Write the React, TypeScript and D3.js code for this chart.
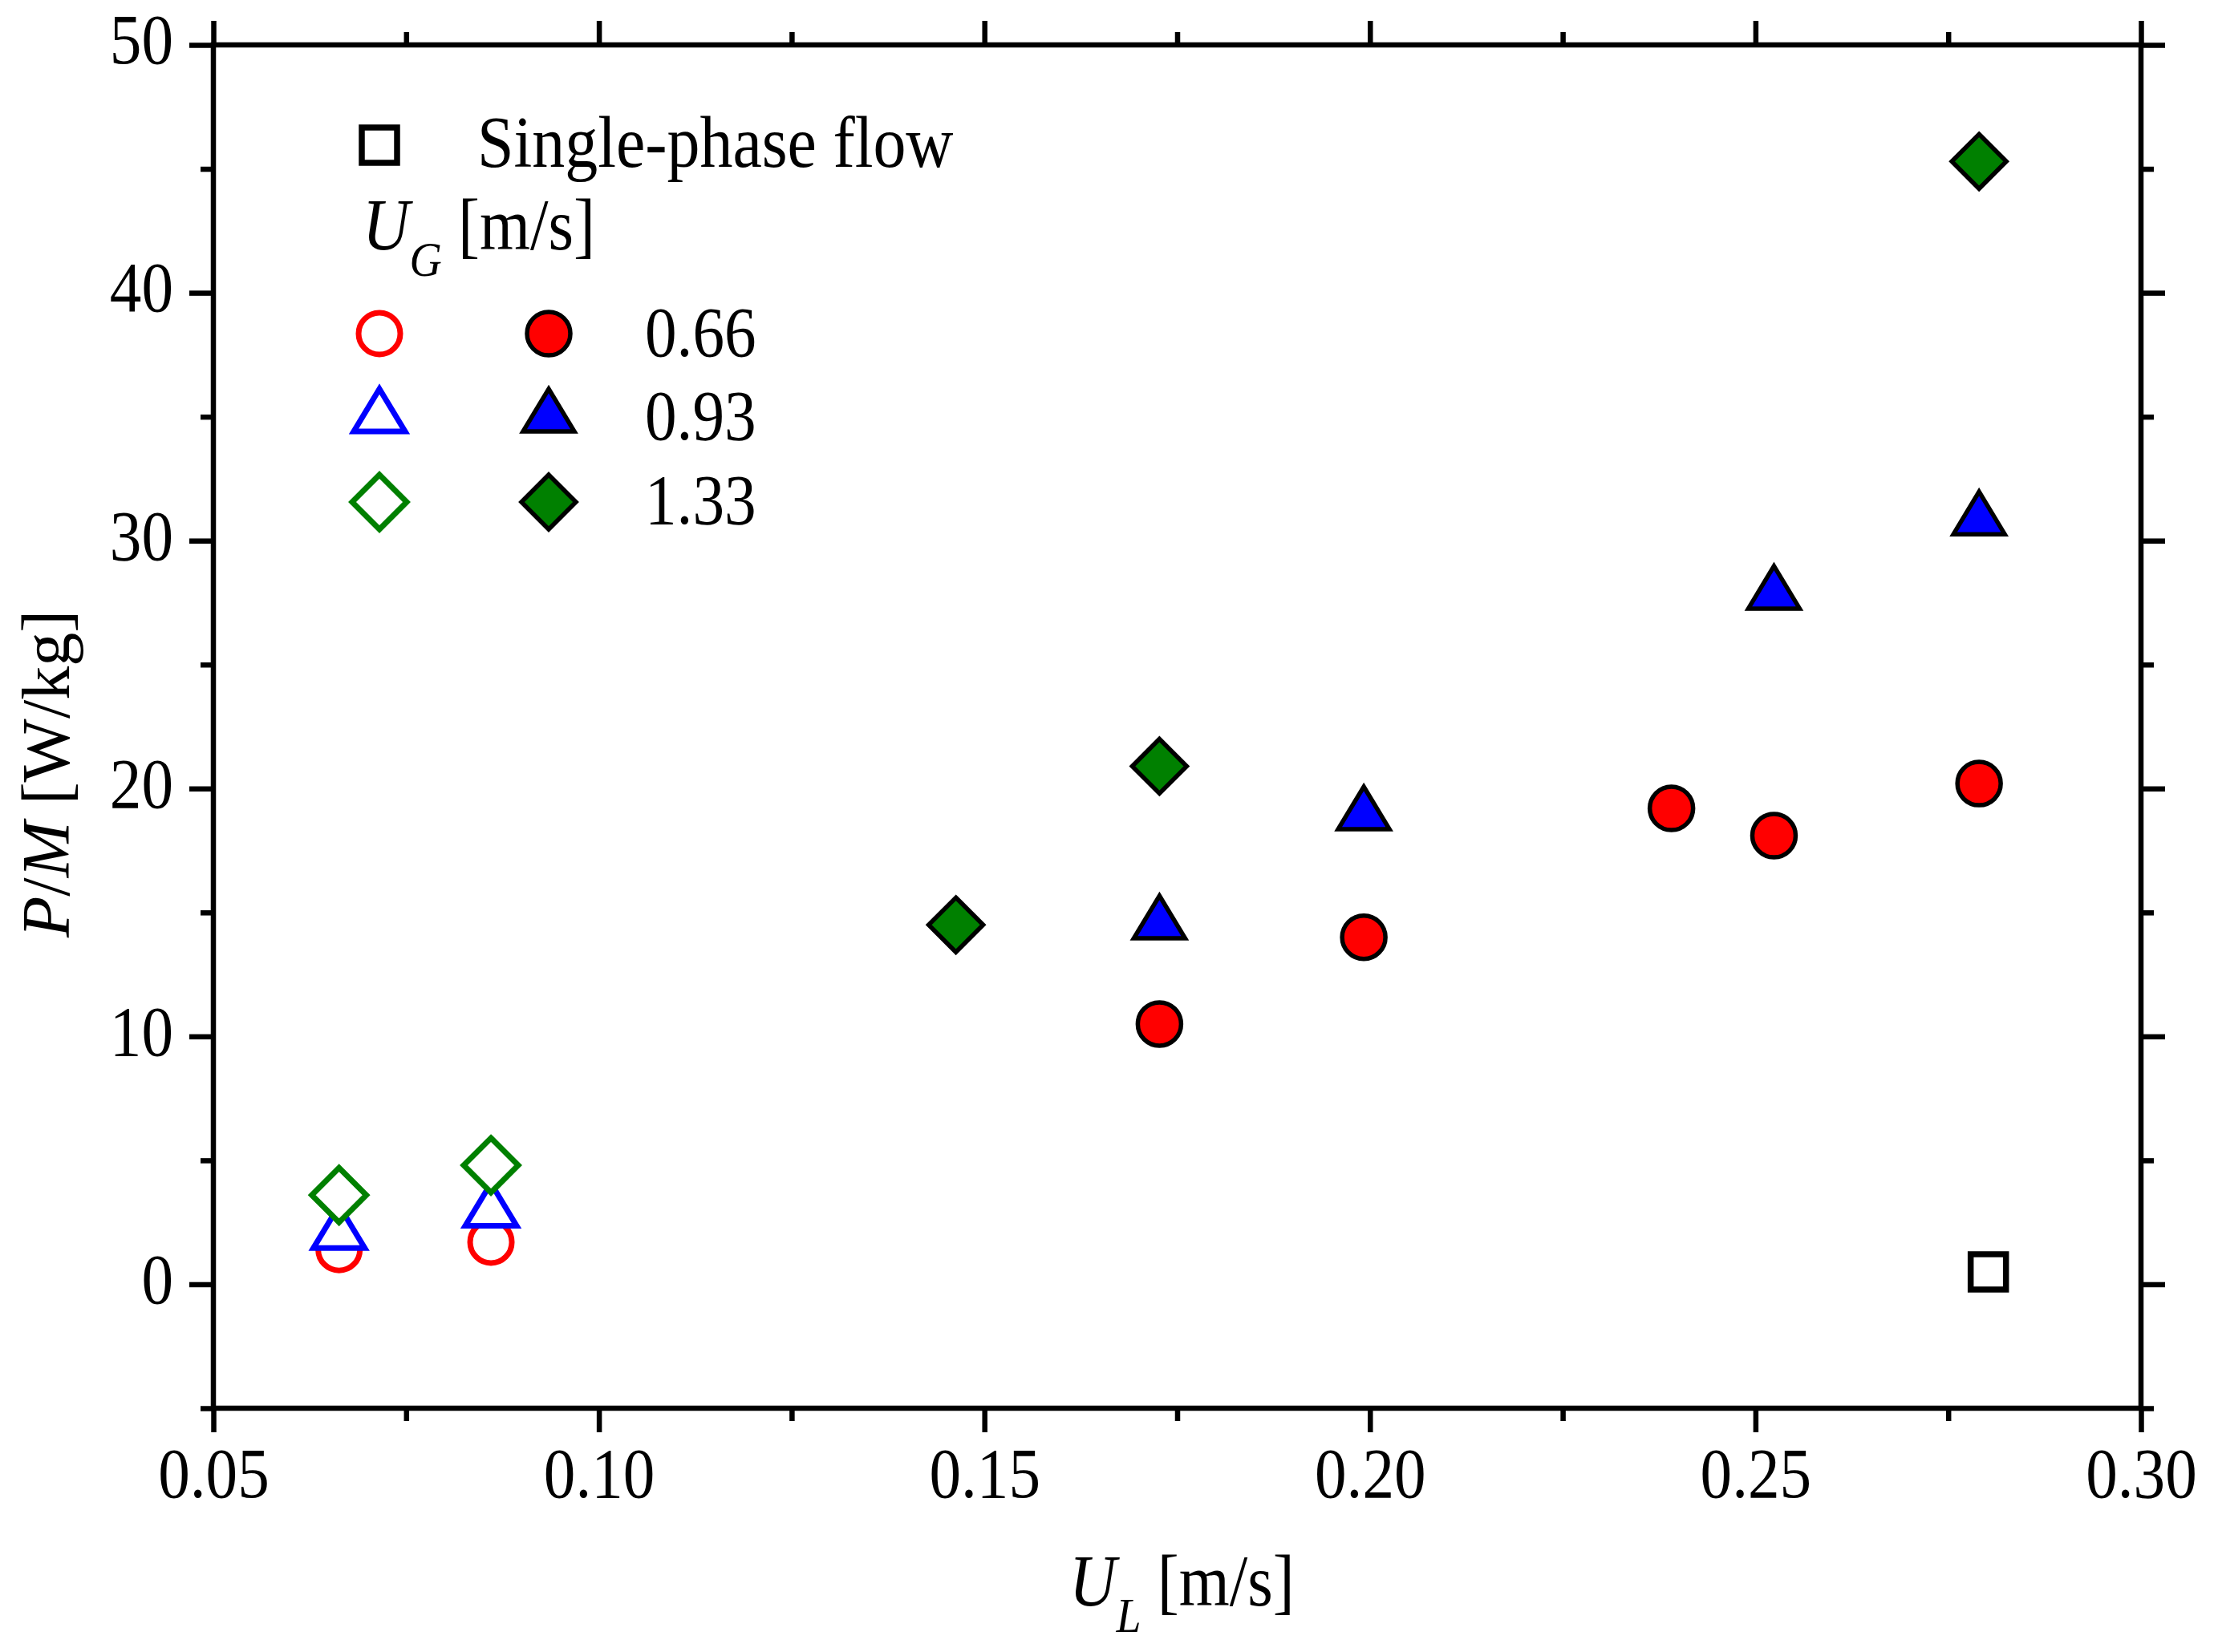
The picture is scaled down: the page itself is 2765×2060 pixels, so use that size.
import { useEffect, useRef } from 'react'
import * as d3 from 'd3'

const W = 2765
const H = 2060
const box = { left: 266, right: 2669, top: 56, bottom: 1756 }
const FONT = '"Liberation Serif", "Times New Roman", serif'
const SQ = 0.9 // the original type is a little condensed

const xMajor = [0.05, 0.10, 0.15, 0.20, 0.25, 0.30]
const xMinor = [0.075, 0.125, 0.175, 0.225, 0.275]
const yMajor = [0, 10, 20, 30, 40, 50]
const yMinor = [-5, 5, 15, 25, 35, 45]

const ugLabels = ['0.66', '0.93', '1.33']
const singleLabel = 'Single-phase flow'

// open symbols (low U_L)
const openUL = [0.0663, 0.086]
const openCircle = [1.4, 1.7]
const openTriangle = [2.3, 3.2]
const openDiamond = [3.6, 4.8]

// filled symbols
const circleUL = [0.1727, 0.1992, 0.2391, 0.2524, 0.279]
const circlePM = [10.5, 14.0, 19.2, 18.1, 20.2]
const triangleUL = [0.1727, 0.1992, 0.2524, 0.279]
const trianglePM = [14.8, 19.2, 28.1, 31.1]
const diamondUL = [0.1463, 0.1727, 0.279]
const diamondPM = [14.5, 20.9, 45.3]

// single-phase
const singleUL = [0.2802]
const singlePM = [0.5]

const RED = '#ff0000'
const BLUE = '#0000ff'
const GREEN = '#008000'

type Kind = 'circle' | 'triangle' | 'diamond' | 'square'

function shape(kind: Kind, open: boolean) {
  const p = d3.path()
  if (kind === 'circle') {
    const r = open ? 26 : 27
    p.arc(0, 0, r, 0, Math.PI * 2)
  } else if (kind === 'triangle') {
    p.moveTo(0, -27); p.lineTo(32, 26); p.lineTo(-32, 26); p.closePath()
  } else if (kind === 'diamond') {
    p.moveTo(0, -34); p.lineTo(34, 0); p.lineTo(0, 34); p.lineTo(-34, 0); p.closePath()
  } else {
    p.rect(-22, -22, 44, 44)
  }
  return p.toString()
}

// move x/y into a transform so the glyphs can be narrowed in place
function squeeze(ts: d3.Selection<any, any, any, any>) {
  ts.each(function () {
    const t = d3.select(this)
    const tx = +(t.attr('x') ?? 0) || 0
    const ty = +(t.attr('y') ?? 0) || 0
    t.attr('x', null).attr('y', null)
      .attr('transform', `translate(${tx},${ty}) scale(${SQ},1)`)
  })
}

export default function App() {
  const svgRef = useRef<SVGSVGElement>(null)

  useEffect(() => {
    const svg = svgRef.current
    if (!svg) return
    const sel = d3.select(svg)
    sel.selectAll('*').remove()

    const x = d3.scaleLinear().domain([0.05, 0.30]).range([box.left, box.right])
    const y = d3.scaleLinear().domain([-5, 50]).range([box.bottom, box.top])

    const styleAxis = (ag: d3.Selection<SVGGElement, unknown, null, undefined>) => {
      ag.select('.domain').remove()
      ag.attr('font-family', FONT).attr('font-size', 88)
      ag.selectAll('line').attr('stroke', '#000').attr('stroke-width', 6.5)
      ag.selectAll('text').attr('fill', '#000')
    }

    // bottom
    sel.append('g').attr('transform', `translate(0,${box.bottom})`)
      .call(d3.axisBottom(x).tickValues(xMajor).tickSize(30).tickPadding(19).tickFormat(d3.format('.2f')))
      .call(styleAxis)
      .call(ag => squeeze(ag.selectAll('text')))
    sel.append('g').attr('transform', `translate(0,${box.bottom})`)
      .call(d3.axisBottom(x).tickValues(xMinor).tickSize(16).tickFormat(() => ''))
      .call(styleAxis)
    // top
    sel.append('g').attr('transform', `translate(0,${box.top})`)
      .call(d3.axisTop(x).tickValues(xMajor).tickSize(30).tickFormat(() => ''))
      .call(styleAxis)
    sel.append('g').attr('transform', `translate(0,${box.top})`)
      .call(d3.axisTop(x).tickValues(xMinor).tickSize(16).tickFormat(() => ''))
      .call(styleAxis)
    // left
    sel.append('g').attr('transform', `translate(${box.left},0)`)
      .call(d3.axisLeft(y).tickValues(yMajor).tickSize(30).tickPadding(20).tickFormat(d3.format('d')))
      .call(styleAxis)
      .call(ag => ag.selectAll('text').attr('dy', '0.26em'))
      .call(ag => squeeze(ag.selectAll('text')))
    sel.append('g').attr('transform', `translate(${box.left},0)`)
      .call(d3.axisLeft(y).tickValues(yMinor).tickSize(16).tickFormat(() => ''))
      .call(styleAxis)
    // right
    sel.append('g').attr('transform', `translate(${box.right},0)`)
      .call(d3.axisRight(y).tickValues(yMajor).tickSize(30).tickFormat(() => ''))
      .call(styleAxis)
    sel.append('g').attr('transform', `translate(${box.right},0)`)
      .call(d3.axisRight(y).tickValues(yMinor).tickSize(16).tickFormat(() => ''))
      .call(styleAxis)

    // frame
    sel.append('rect')
      .attr('x', box.left).attr('y', box.top)
      .attr('width', box.right - box.left).attr('height', box.bottom - box.top)
      .attr('fill', 'none').attr('stroke', '#000').attr('stroke-width', 6.5)

    // series
    const drawSeries = (xs: number[], ys: number[], kind: Kind, color: string, open: boolean) => {
      sel.append('g').selectAll('path')
        .data(xs.map((v, i) => [v, ys[i]]))
        .join('path')
        .attr('d', shape(kind, open))
        .attr('transform', d => `translate(${x(d[0])},${y(d[1])})`)
        .attr('fill', open ? '#fff' : color)
        .attr('stroke', open ? color : '#000')
        .attr('stroke-width', open ? 7 : 5.5)
        .attr('stroke-linejoin', 'miter')
    }

    drawSeries(openUL, openCircle, 'circle', RED, true)
    drawSeries(openUL, openTriangle, 'triangle', BLUE, true)
    drawSeries(openUL, openDiamond, 'diamond', GREEN, true)
    drawSeries(circleUL, circlePM, 'circle', RED, false)
    drawSeries(triangleUL, trianglePM, 'triangle', BLUE, false)
    drawSeries(diamondUL, diamondPM, 'diamond', GREEN, false)
    sel.append('g').selectAll('path')
      .data(singleUL.map((v, i) => [v, singlePM[i]]))
      .join('path')
      .attr('d', shape('square', true))
      .attr('transform', d => `translate(${x(d[0])},${y(d[1])})`)
      .attr('fill', '#fff').attr('stroke', '#000').attr('stroke-width', 7.5)

    // legend
    const lg = sel.append('g').attr('font-family', FONT).attr('fill', '#000')
    lg.append('path').attr('d', shape('square', true))
      .attr('transform', 'translate(473,181)')
      .attr('fill', '#fff').attr('stroke', '#000').attr('stroke-width', 7.5)
    lg.append('text').attr('x', 595).attr('y', 208).attr('font-size', 91).text(singleLabel)
      .call(squeeze)

    const ug = lg.append('text').attr('x', 452).attr('y', 311).attr('font-size', 90)
    ug.append('tspan').attr('font-style', 'italic').text('U')
    ug.append('tspan').attr('font-style', 'italic').attr('font-size', 62).attr('dy', 33).text('G')
    ug.append('tspan').attr('dy', -33).text('\u00a0[m/s]')
    squeeze(ug)

    const kinds: Kind[] = ['circle', 'triangle', 'diamond']
    const colors = [RED, BLUE, GREEN]
    const rowY = [416, 512, 626]
    const baseY = [444, 548, 653]
    ugLabels.forEach((lab, i) => {
      lg.append('path').attr('d', shape(kinds[i], true))
        .attr('transform', `translate(473,${rowY[i]})`)
        .attr('fill', '#fff').attr('stroke', colors[i]).attr('stroke-width', 7)
      lg.append('path').attr('d', shape(kinds[i], false))
        .attr('transform', `translate(684,${rowY[i]})`)
        .attr('fill', colors[i]).attr('stroke', '#000').attr('stroke-width', 5.5)
      lg.append('text').attr('x', 804).attr('y', baseY[i]).attr('font-size', 88).text(lab)
        .call(squeeze)
    })

    // axis titles
    const xt = sel.append('text').attr('font-family', FONT).attr('font-size', 90)
      .attr('x', 1333).attr('y', 2002)
    xt.append('tspan').attr('font-style', 'italic').text('U')
    xt.append('tspan').attr('font-style', 'italic').attr('font-size', 62).attr('dy', 33).text('L')
    xt.append('tspan').attr('dy', -33).text('\u00a0[m/s]')
    squeeze(xt)

    const yt = sel.append('text').attr('font-family', FONT).attr('font-size', 84)
      .attr('transform', 'translate(86,1169) rotate(-90)')
    yt.append('tspan').attr('font-style', 'italic').text('P')
    yt.append('tspan').text('/')
    yt.append('tspan').attr('font-style', 'italic').text('M')
    yt.append('tspan').text('\u00a0[W/kg]')
  }, [])

  return (
    <svg
      ref={svgRef}
      width={W}
      height={H}
      style={{ position: 'absolute', left: 0, top: 0, background: '#fff', display: 'block' }}
    />
  )
}
